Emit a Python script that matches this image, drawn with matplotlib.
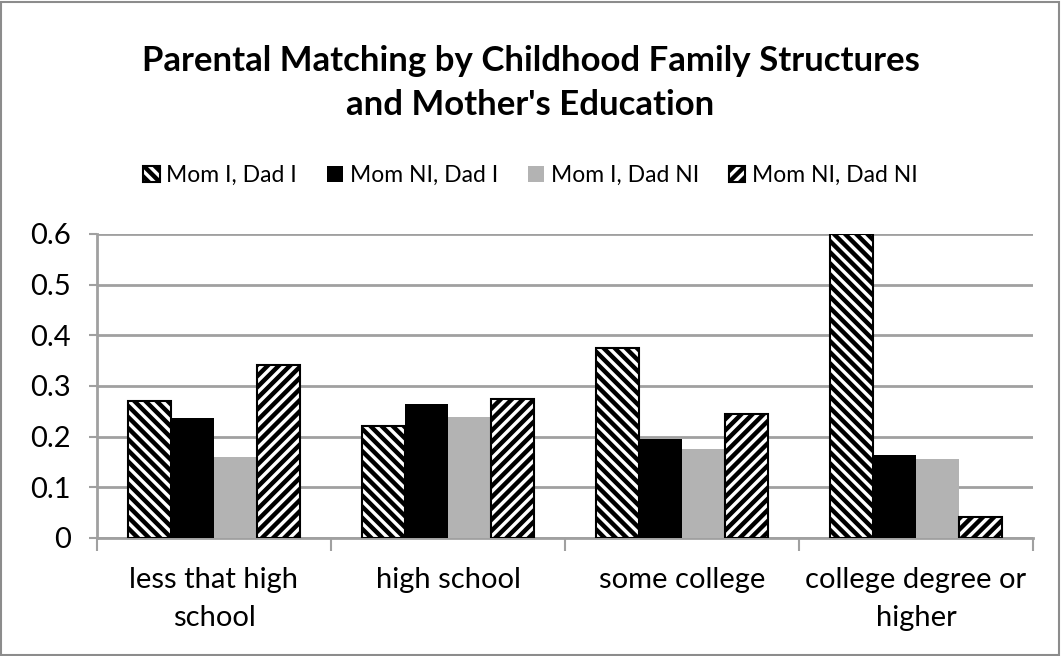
import matplotlib
matplotlib.use("Agg")
import matplotlib.pyplot as plt
import numpy as np
from matplotlib.patches import Rectangle

categories = ["less that high\nschool", "high school", "some college", "college degree or\nhigher"]
series_names = ["Mom I, Dad I", "Mom NI, Dad I", "Mom I, Dad NI", "Mom NI, Dad NI"]
mom_i_dad_i = [0.27, 0.221, 0.375, 0.60]
mom_ni_dad_i = [0.237, 0.264, 0.195, 0.164]
mom_i_dad_ni = [0.160, 0.239, 0.176, 0.156]
mom_ni_dad_ni = [0.341, 0.274, 0.245, 0.042]
y_ticks = [0, 0.1, 0.2, 0.3, 0.4, 0.5, 0.6]
y_labels = ["0", "0.1", "0.2", "0.3", "0.4", "0.5", "0.6"]

plt.rcParams['font.family'] = ['Lato', 'DejaVu Sans']
plt.rcParams['hatch.linewidth'] = 3.2

fig = plt.figure(figsize=(10.61, 6.56), dpi=100)
ax = fig.add_axes([0.0914, 0.1799, 0.9736 - 0.0914, 0.6433 - 0.1799])

x = np.arange(len(categories))
bw = 0.184
styles = [
    dict(facecolor="white", edgecolor="black", hatch="\\\\\\", linewidth=1.5),
    dict(facecolor="black", edgecolor="black", linewidth=0),
    dict(facecolor="#b3b3b3", edgecolor="#b3b3b3", linewidth=0),
    dict(facecolor="white", edgecolor="black", hatch="///", linewidth=1.5),
]
data = [mom_i_dad_i, mom_ni_dad_i, mom_i_dad_ni, mom_ni_dad_ni]
for i, (vals, st) in enumerate(zip(data, styles)):
    ax.bar(x + (i - 1.5) * bw, vals, width=bw, label=series_names[i], zorder=3, **st)

ax.set_xlim(-0.5, len(categories) - 0.5)
ax.set_ylim(0, 0.6)
ax.set_yticks(y_ticks)
ax.set_yticklabels(y_labels, fontsize=21)
ax.set_xticks(x)
ax.set_xticklabels(categories, fontsize=21, linespacing=1.55)
ax.tick_params(axis='x', length=0, pad=21)
ax.set_xticks(np.arange(-0.5, len(categories)), minor=True)
ax.tick_params(axis='x', which='minor', length=9, color='#a0a0a0', width=1.5)
ax.tick_params(axis='y', length=6, color='#a0a0a0', width=1.5, pad=13)
ax.yaxis.grid(True, color='#a0a0a0', linewidth=2, zorder=0)
ax.set_axisbelow(True)
for s in ['top', 'right']:
    ax.spines[s].set_visible(False)
for s in ['left', 'bottom']:
    ax.spines[s].set_color('#a0a0a0')
    ax.spines[s].set_linewidth(2)

fig.text(0.5, 0.873, "Parental Matching by Childhood Family Structures\nand Mother's Education",
         ha='center', va='center', fontsize=25, fontweight='bold', linespacing=1.45)

leg = fig.legend(loc='center', bbox_to_anchor=(0.5, 0.733), ncol=4, frameon=False,
                 fontsize=16.5, handlelength=0.7, handleheight=0.7, handletextpad=0.3,
                 columnspacing=1.3)

fig.patches.append(Rectangle((0.001, 0.0015), 0.997, 0.996, transform=fig.transFigure,
                             fill=False, edgecolor='#8c8c8c', linewidth=1.5))

fig.savefig("out.png", dpi=100)
